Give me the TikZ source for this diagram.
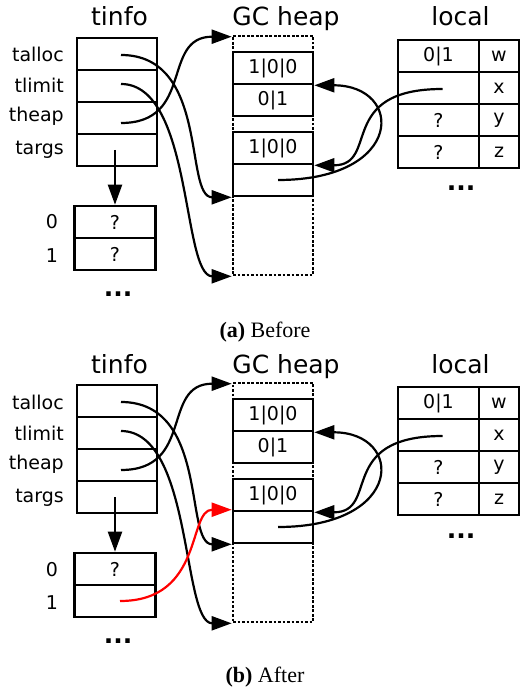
\documentclass[tikz,border=0pt]{standalone}
\usepackage{fontspec}
\newfontfamily\dv{DejaVu Sans}
\newfontfamily\capfont{Liberation Serif}
\usetikzlibrary{arrows.meta}

\tikzset{
  cell/.style={draw, line width=2.6pt, minimum width=80pt, minimum height=32pt,
    inner sep=0pt, font=\dv\fontsize{19}{19}\selectfont},
  heapbox/.style={draw, line width=2.6pt, dash pattern=on 2.6pt off 1.9pt,
    minimum width=80pt, minimum height=239pt, inner sep=0pt},
  ttl/.style={anchor=base, inner sep=0pt, font=\dv\fontsize{25}{25}\selectfont},
  lbl/.style={anchor=base east, inner sep=0pt, font=\dv\fontsize{19}{19}\selectfont},
  idx/.style={anchor=base, inner sep=0pt, font=\dv\fontsize{19}{19}\selectfont},
  dots/.style={anchor=base, inner sep=0pt, font=\dv\bfseries\fontsize{25}{25}\selectfont},
  conn/.style={line width=2.2pt, -{Triangle[length=20pt,width=14pt]}},
  newptr/.style={conn, red},
  captext/.style={anchor=base, inner sep=0pt, font=\capfont\fontsize{22}{22}\selectfont},
}

% One panel: #1 name prefix, #2 vertical offset, #3 content of args slot 1
\newcommand\drawpanel[3]{%
\begin{scope}[shift={(0,#2)}]
  % titles
  \node[ttl] (#1-tinfo) at (119.5,26) {tinfo};
  \node[ttl] (#1-gc) at (286,26) {GC heap};
  \node[ttl] (#1-local) at (460.5,26) {local};
  % thread info record
  \node[cell] (#1-talloc) at (117,54) {};
  \node[cell] (#1-tlimit) at (117,86) {};
  \node[cell] (#1-theap) at (117,118) {};
  \node[cell] (#1-targs) at (117,150) {};
  \node[lbl] (#1-l1) at (64,62) {talloc};
  \node[lbl] (#1-l2) at (64,93) {tlimit};
  \node[lbl] (#1-l3) at (64,122) {theap};
  \node[lbl] (#1-l4) at (64,155) {targs};
  % argument array
  \node[cell, minimum width=81pt] (#1-a0) at (115,222) {?};
  \node[cell, minimum width=81pt] (#1-a1) at (115,254) {#3};
  \node[idx] (#1-i0) at (52,229) {0};
  \node[idx] (#1-i1) at (52,262) {1};
  \node[dots] (#1-adots) at (118,296) {...};
  % GC heap
  \node[heapbox] (#1-heap) at (273,155.5) {};
  \node[cell] (#1-h1) at (273,68) {1|0|0};
  \node[cell] (#1-h2) at (273,100) {0|1};
  \node[cell] (#1-h3) at (273,148) {1|0|0};
  \node[cell] (#1-h4) at (273,180) {};
  % local variables
  \node[cell, minimum width=81pt] (#1-lw) at (438.5,56) {0|1};
  \node[cell, minimum width=81pt] (#1-lx) at (438.5,88) {};
  \node[cell, minimum width=81pt] (#1-ly) at (438.5,120) {?};
  \node[cell, minimum width=81pt] (#1-lz) at (438.5,152) {?};
  \node[cell, minimum width=40pt] (#1-nw) at (499,56) {w};
  \node[cell, minimum width=40pt] (#1-nx) at (499,88) {x};
  \node[cell, minimum width=40pt] (#1-ny) at (499,120) {y};
  \node[cell, minimum width=40pt] (#1-nz) at (499,152) {z};
  \node[dots] (#1-ldots) at (461,191) {...};
  % pointers
  \draw[conn] ([shift={(4,1)}]#1-talloc.center)
     .. controls +(89,0) and +(-48,0) .. (#1-h4.south west);
  \draw[conn] ([shift={(4,-2)}]#1-tlimit.center)
     .. controls +(72,0) and +(-50,0) .. (#1-heap.south west);
  \draw[conn] ([shift={(4,5)}]#1-theap.center)
     .. controls +(74,0) and +(-71,0) .. ([yshift=-2pt]#1-heap.north west);
  \draw[conn] (#1-a0.north |- #1-targs.center) -- (#1-a0.north);
  \draw[conn] ([shift={(4,1)}]#1-lx.center)
     .. controls +(-107,0) and +(66,0) .. (#1-h3.south east);
  \draw[conn] ([shift={(5,0)}]#1-h4.center)
     .. controls +(127,0) and +(90,0) .. (#1-h1.south east);
\end{scope}}

\begin{document}
\begin{tikzpicture}[x=1pt,y=-1pt]
  \useasboundingbox (0,0) rectangle (520,692);
  \drawpanel{a}{0}{?}
  \node[captext] (capa) at (265,337) {\textbf{(a)} Before};
  \drawpanel{b}{347}{}
  \draw[newptr] ([shift={(5,0)}]b-a1.center)
     .. controls +(84,0) and +(-44,0) .. (b-h4.north west);
  \node[captext] (capb) at (265,682) {\textbf{(b)} After};
\end{tikzpicture}
\end{document}
